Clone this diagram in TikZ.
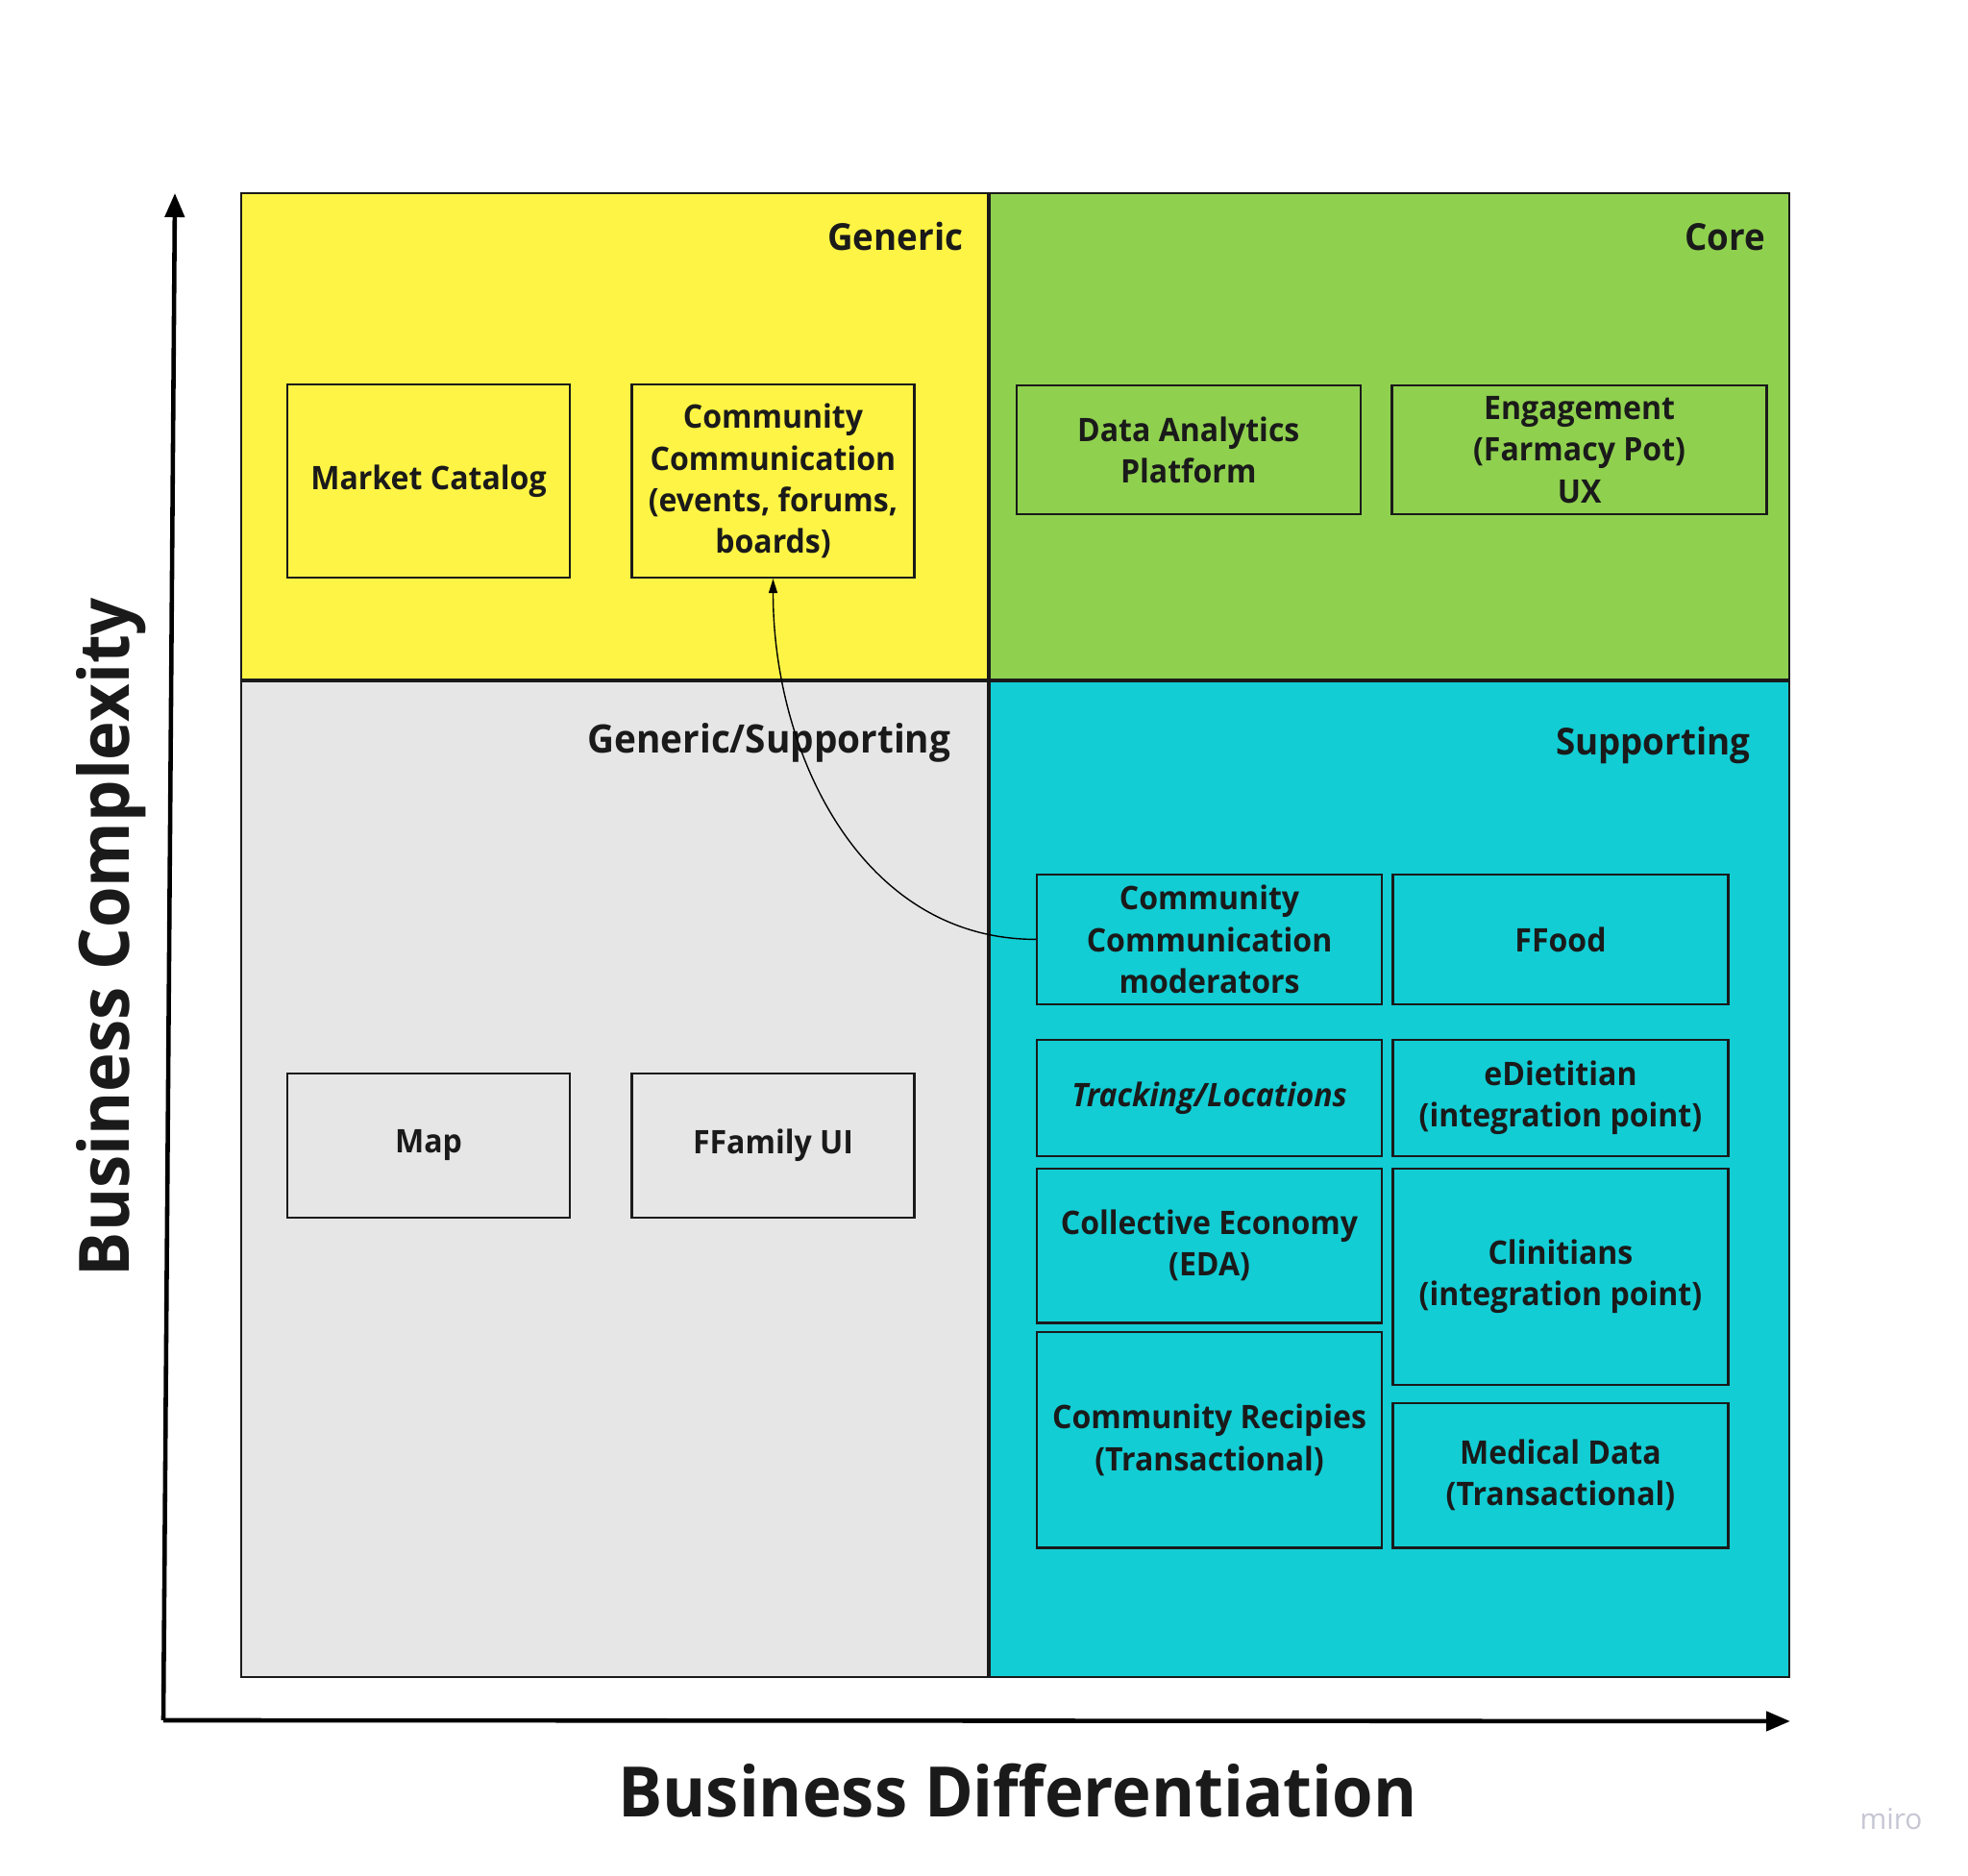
\documentclass[tikz,border=0pt]{standalone}
\usepackage{fontspec}
\setmainfont{Open Sans}[BoldFeatures={FakeStretch=0.95},
                        BoldItalicFeatures={FakeStretch=0.95}]
\usetikzlibrary{arrows.meta,calc,positioning}
\definecolor{ink}{HTML}{1A1A1A}
\definecolor{genyellow}{HTML}{FEF445}
\definecolor{coregreen}{HTML}{8FD14F}
\definecolor{supcyan}{HTML}{12CDD4}
\definecolor{gensupgray}{HTML}{E6E6E6}
\definecolor{mirogray}{HTML}{C6C6D4}
\tikzset{
    domain chart/.style = {>={Triangle[length=2.5mm, width=2mm]}},
    quadrant/.style     = {draw=ink, line width=0.6pt, anchor=north west,
                           inner sep=0pt, outer sep=0pt},
    qtitle/.style       = {anchor=base east, inner sep=0pt, text=ink,
                           font=\fontsize{11}{13}\selectfont\bfseries},
    box/.style          = {draw=ink, line width=0.65pt, align=center,
                           inner sep=0pt, text=ink,
                           font=\fontsize{9.6}{12.3}\selectfont\bfseries},
    axis/.style         = {line width=1.3pt, black},
    axislabel/.style    = {inner sep=0pt, text=ink,
                           font=\fontsize{20.6}{24}\selectfont\bfseries},
    link/.style         = {line width=0.4pt, black,
                           >={Triangle[length=1.5mm, width=0.9mm]}}
}

\begin{document}
\begin{tikzpicture}[domain chart]
\path[use as bounding box, fill=white] (0,0) rectangle (20.48,19.52);

% ================= Quadrants =================
\node[quadrant, fill=genyellow, minimum width=7.77cm, minimum height=5.06cm]
    (generic) at (2.51,17.51) {};
\node[quadrant, fill=coregreen, minimum width=8.32cm, minimum height=5.06cm]
    (core) at (10.30,17.51) {};
\node[quadrant, fill=gensupgray, minimum width=7.77cm, minimum height=10.36cm]
    (gensup) at (2.51,12.43) {};
\node[quadrant, fill=supcyan, minimum width=8.32cm, minimum height=10.36cm]
    (supporting) at (10.30,12.43) {};

\node[qtitle] (genericT) at ($(generic.north east)+(-0.25,-0.60)$) {Generic};
\node[qtitle] (coreT)    at ($(core.north east)+(-0.245,-0.60)$) {Core};
\node[qtitle, font=\fontsize{11.6}{13}\selectfont\bfseries]
    (gensupT) at ($(gensup.north east)+(-0.38,-0.75)$) {Generic/Supporting};
\node[qtitle] (suppT)    at ($(supporting.north east)+(-0.40,-0.77)$) {Supporting};

% ================= Generic =================
\node[box, minimum width=2.94cm, minimum height=2.01cm] (catalog) at (4.46,14.515) {Market Catalog};
\node[box, minimum width=2.94cm, minimum height=2.01cm] (ccgen)   at (8.045,14.515)
    {Community\\Communication\\(events, forums,\\boards)};

% ================= Core =================
\node[box, minimum width=3.58cm, minimum height=1.345cm] (analytics) at (12.368,14.84)
    {Data Analytics\\Platform};
\node[box, minimum width=3.90cm, minimum height=1.345cm] (engage)    at (16.436,14.84)
    {Engagement\\(Farmacy Pot)\\UX};

% ================= Generic/Supporting =================
\node[box, minimum width=2.94cm, minimum height=1.50cm] (map)     at (4.46,7.603)  {Map};
\node[box, minimum width=2.94cm, minimum height=1.50cm] (ffamily) at (8.045,7.603) {FFamily UI};

% ================= Supporting =================
\node[box, minimum width=3.59cm, minimum height=1.347cm] (ccmod) at (12.586,9.7455)
    {Community\\Communication\\moderators};
\node[box, minimum width=3.49cm, minimum height=1.347cm] (ffood) at (16.24,9.7455) {FFood};
\node[box, minimum width=3.59cm, minimum height=1.207cm] (tracking) at (12.586,8.0955)
    {\itshape Tracking/Locations};
\node[box, minimum width=3.49cm, minimum height=1.207cm] (edietitian) at (16.24,8.0955)
    {eDietitian\\(integration point)};
\node[box, minimum width=3.59cm, minimum height=1.605cm] (economy) at (12.586,6.5585)
    {Collective Economy\\(EDA)};
\node[box, minimum width=3.49cm, minimum height=2.254cm] (clinitians) at (16.24,6.234)
    {Clinitians\\(integration point)};
\node[box, minimum width=3.59cm, minimum height=2.244cm] (recipies) at (12.586,4.537)
    {Community Recipies\\(Transactional)};
\node[box, minimum width=3.49cm, minimum height=1.508cm] (medical) at (16.24,4.169)
    {Medical Data\\(Transactional)};

\draw[link, ->] (ccmod.west) to[out=180, in=-90] (ccgen.south);

% ================= Axes =================
\coordinate (origin) at (1.70,1.62);
\coordinate (ytip)   at (1.82,17.51);
\coordinate (xtip)   at (18.63,1.61);
\draw[axis, ->] (origin) -- (ytip);
\draw[axis, ->] (origin) -- (xtip);

\node[axislabel, rotate=90] (ylabel) at (1.16,9.77) {Business Complexity};
\node[axislabel, anchor=base] (xlabel) at (10.59,0.61) {Business Differentiation};

\node[anchor=base, inner sep=0pt, text=mirogray, font=\fontsize{8.5}{10}\selectfont]
    (miro) at (19.68,0.48) {miro};

\end{tikzpicture}
\end{document}
